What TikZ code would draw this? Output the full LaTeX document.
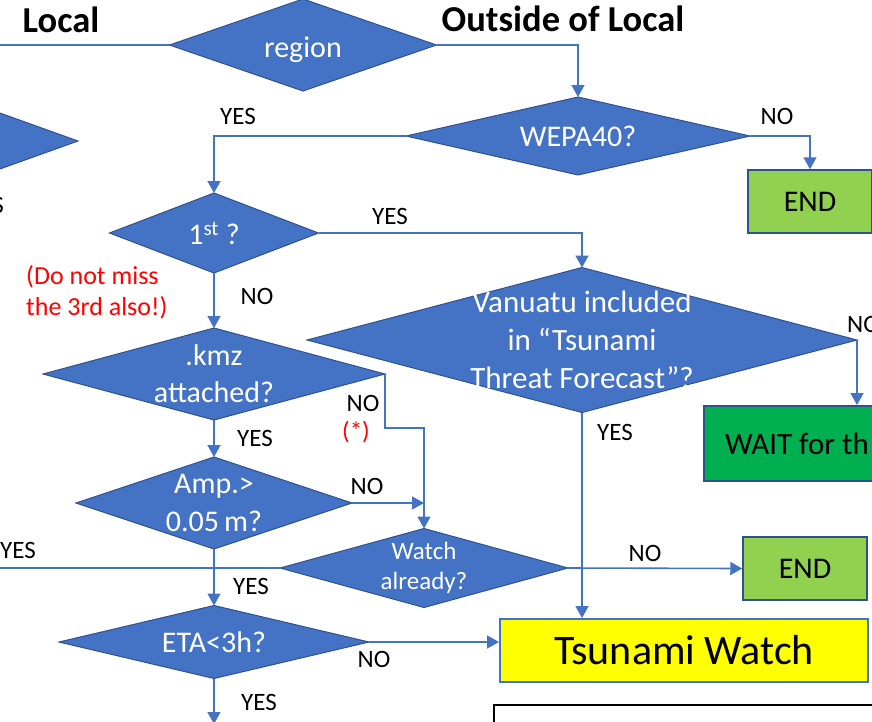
\documentclass[tikz,border=0pt]{standalone}
\usepackage{fontspec}
\setmainfont{Carlito}
\usetikzlibrary{shapes.geometric,arrows.meta}
\definecolor{dblue}{HTML}{4472C4}
\definecolor{dborder}{HTML}{2F528F}
\definecolor{lgreen}{HTML}{92D050}
\definecolor{dgreen}{HTML}{00B050}
\definecolor{ylw}{HTML}{FFFF00}
\definecolor{rred}{HTML}{FF0000}
\tikzset{
  dia/.style 2 args={diamond, draw=dborder, line width=1pt, fill=dblue, inner sep=0pt, outer sep=0pt, minimum width=#1, minimum height=#2},
  dtext/.style={text=white, font=\fontsize{30}{36}\selectfont, align=center, inner sep=0pt},
  lbl/.style={font=\fontsize{25}{30}\selectfont, inner sep=0pt},
  ln/.style={draw=dblue, line width=1.6pt},
  arr/.style={draw=dblue, line width=1.6pt, -{Triangle[length=12pt, width=13pt]}},
  endbox/.style={draw=dborder, line width=1.5pt, fill=lgreen, minimum width=124, minimum height=63, inner sep=0pt, font=\fontsize{30}{36}\selectfont},
  hdr/.style={font=\bfseries\fontsize{36.5}{44}\selectfont, inner sep=0pt}
}
\begin{document}
\begin{tikzpicture}[x=1pt, y=-1pt]
\useasboundingbox (0,0) rectangle (872,721);
\clip (0,0) rectangle (872,721);
\fill[white] (0,0) rectangle (872,721);

% headers
\node[hdr] (local) at (61,20) {Local};
\node[hdr] (outside) at (563,19) {Outside of Local};

% diamonds
\node[dia={267}{92}] (region) at (303,45) {};
\node[dia={344}{78}] (wepa) at (578,136) {};
\node[dia={240}{86}] (leftd) at (-42,141) {};
\node[dia={209}{80}] (one) at (214,233) {};
\node[dia={550}{145}] (van) at (582,340) {};
\node[dia={342}{92}] (kmz) at (214,374) {};
\node[dia={276}{92}] (amp) at (214,503) {};
\node[dia={288}{79}] (watch) at (424,568) {};
\node[dia={310}{73}] (eta) at (214,642) {};

% boxes
\node[endbox] (end1) at (810,201.5) {END};
\node[endbox] (end2) at (805,568.5) {END};
\node[draw=dborder, line width=1.5pt, fill=dgreen, anchor=north west, minimum width=250, minimum height=75, inner sep=0pt] (wait) at (703,405) {};
\node[font=\fontsize{31}{37}\selectfont, anchor=west, inner sep=0pt] (waitt) at (725,444) {WAIT for th};
\node[draw=dblue, line width=2pt, fill=ylw, minimum width=368, minimum height=63, inner sep=0pt, font=\fontsize{42}{50}\selectfont] (tw) at (684,650.5) {Tsunami Watch};
\node[draw=black, line width=2pt, anchor=north west, minimum width=500, minimum height=100, inner sep=0pt] (blk) at (493,704) {};

% diamond texts
\node[dtext, anchor=base, yshift=-12pt] (t_region) at (region) {region};
\node[dtext] (t_wepa) at (wepa) {WEPA40?};
\node[dtext] (t_one) at (one) {1\textsuperscript{st} ?};
\node[dtext, font=\fontsize{30}{37}\selectfont] (t_kmz) at (kmz) {.kmz\\attached?};
\node[dtext, font=\fontsize{30}{38}\selectfont] (t_amp) at (amp) {Amp.>\\0.05\,m?};
\node[dtext, font=\fontsize{25}{30}\selectfont] (t_watch) at (watch) {Watch\\already?};
\node[dtext] (t_eta) at (eta) {ETA<3h?};
\node[dtext, font=\fontsize{31}{38}\selectfont] (t_van) at (van) {Vanuatu included\\in “Tsunami\\Threat Forecast”?};

% connectors
\coordinate (lend) at (0,45);
\draw[ln] (region.west) -- (lend);
\draw[arr] (region.east) -| (wepa.north);
\draw[arr] (wepa.east) -| (end1.north);
\draw[arr] (wepa.west) -| (one.north);
\draw[arr] (one.east) -| (van.north);
\draw[arr] (one.south) -- (kmz.north);
\coordinate (kbend) at (385,428);
\draw[arr] (kmz.east) |- (kbend) -| (watch.north);
\draw[arr] (kmz.south) -- (amp.north);
\draw[arr] (amp.east) -- (amp.east -| watch.north);
\draw[arr] (amp.south) -- (eta.north);
\coordinate (wleft) at (0,568);
\draw[ln] (watch.west) -- (wleft);
\draw[arr] (watch.east) -- (end2.west);
\draw[arr] (van.east) -- (van.east |- wait.north);
\draw[arr] (van.south) -- (van.south |- tw.north);
\draw[arr] (eta.east) -- (eta.east -| tw.west);
\coordinate (etab) at (214,724);
\draw[arr] (eta.south) -- (etab);

% labels
\node[lbl, anchor=east] (lyes) at (4,205) {YES};
\node[lbl] (l1) at (238,116) {YES};
\node[lbl] (l2) at (777,116) {NO};
\node[lbl] (l3) at (390,216) {YES};
\node[lbl] (l4) at (257,296) {NO};
\node[lbl] (l5) at (255,438) {YES};
\node[lbl] (l6) at (363,403) {NO};
\node[lbl, text=rred] (l7) at (356,432) {(*)};
\node[lbl] (l8) at (367,486) {NO};
\node[lbl] (l9) at (251,586) {YES};
\node[lbl] (l10) at (18,550) {YES};
\node[lbl] (l11) at (645,553) {NO};
\node[lbl] (l12) at (615,432) {YES};
\node[lbl, anchor=west] (l13) at (847,324) {NO};
\node[lbl] (l14) at (374,659) {NO};
\node[lbl] (l15) at (259,702) {YES};
\node[lbl, text=rred, font=\fontsize{26}{31}\selectfont, align=left, anchor=west] (note) at (26,292) {(Do not miss\\the 3rd also!)};
\end{tikzpicture}
\end{document}
